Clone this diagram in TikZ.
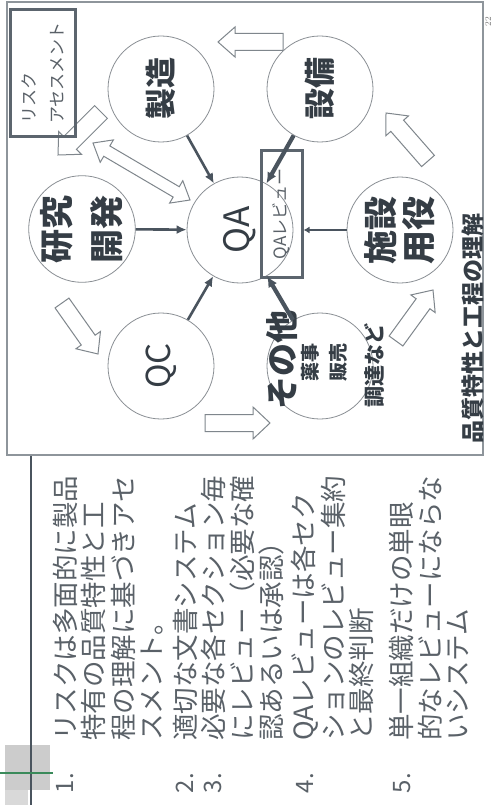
\documentclass[tikz,border=0pt]{standalone}
\usepackage{fontspec}
\newfontfamily\jp{Noto Sans CJK JP}
\usetikzlibrary{calc,arrows.meta}
\definecolor{frameC}{HTML}{8E959B}
\definecolor{lineC}{HTML}{4A545E}
\definecolor{txtC}{HTML}{353D45}
\definecolor{listC}{HTML}{5A6168}
\definecolor{circC}{HTML}{8A8F94}
\definecolor{barC}{HTML}{7F868C}
\definecolor{greenC}{HTML}{3A8A5A}
\newcommand\jfs[2]{\jp\fontsize{#1}{#2}\selectfont}
\newcommand\blockarr[5]{%
  \path ($(#2)!#5!(#1)$) coordinate (bac);
  \draw[barrow] ($(#1)!#3!90:(#2)$) -- ($(bac)!#3!90:(#2)$) -- ($(bac)!#4!90:(#2)$) -- (#2)
    -- ($(bac)!#4!-90:(#2)$) -- ($(bac)!#3!-90:(#2)$) -- ($(#1)!#3!-90:(#2)$) -- cycle;}
\newcommand\dblarr[5]{%
  \path ($(#2)!#5!(#1)$) coordinate (dbb);
  \path ($(#1)!#5!(#2)$) coordinate (dba);
  \draw[barrow] (#1) -- ($(dba)!#4!90:(#2)$) -- ($(dba)!#3!90:(#2)$) -- ($(dbb)!#3!90:(#2)$)
    -- ($(dbb)!#4!90:(#2)$) -- (#2) -- ($(dbb)!#4!-90:(#2)$) -- ($(dbb)!#3!-90:(#2)$)
    -- ($(dba)!#3!-90:(#2)$) -- ($(dba)!#4!-90:(#2)$) -- cycle;}
\tikzset{
  circ/.style={circle, draw=circC, line width=0.8pt, minimum size=106pt, inner sep=0pt, rotate=90, text=txtC, align=center},
  conn/.style={draw=lineC, line width=2.6pt, -{Latex[length=10pt,width=9pt]}},
  connthick/.style={draw=lineC, line width=4.2pt, -{Latex[length=11pt,width=10pt]}},
  barrow/.style={draw=barC, line width=1pt, fill=white, line join=miter},
  rtext/.style={rotate=90, inner sep=0pt, text=txtC},
  ltext/.style={rotate=90, inner sep=0pt, text=listC, anchor=west, font=\jfs{26.5}{27}},
  numtext/.style={rotate=90, inner sep=0pt, text=listC, font=\jfs{24}{24}},
  boxed/.style={draw=lineC!90, line width=3pt, rotate=90, inner sep=0pt, text=listC},
}
\begin{document}
\begin{tikzpicture}[x=1pt,y=-1pt]
\useasboundingbox (0,0) rectangle (492,805);
\fill[white] (0,0) rectangle (492,805);
% frame
\draw[frameC, line width=1.3pt] (7,2) rectangle (483,455);
\node[rtext, text=gray, font=\fontsize{9}{9}\selectfont] (pg) at (488,22) {22};
% block arrows
\coordinate (t1) at (283,42);  \coordinate (h1) at (218,42);
\coordinate (t2) at (428,161); \coordinate (h2) at (386,113);
\coordinate (t3) at (396,341); \coordinate (h3) at (433,290);
\coordinate (t4) at (205,423); \coordinate (h4) at (270,423);
\coordinate (t5) at (62,303);  \coordinate (h5) at (98,354);
\coordinate (t6) at (101,112); \coordinate (h6) at (58,155);
\coordinate (d1) at (93,143);  \coordinate (d2) at (190,200);
\blockarr{t1}{h1}{8.5pt}{15pt}{17pt}
\blockarr{t2}{h2}{8.5pt}{15pt}{17pt}
\blockarr{t3}{h3}{8.5pt}{15pt}{17pt}
\blockarr{t4}{h4}{8.5pt}{16pt}{17pt}
\blockarr{t5}{h5}{8.5pt}{15pt}{17pt}
\blockarr{t6}{h6}{9pt}{16pt}{17pt}
\dblarr{d1}{d2}{6pt}{13pt}{16pt}
% risk box
\node[boxed, minimum width=127pt, minimum height=65pt, align=left, font=\jfs{17}{28}] (risk) at (43,73) {リスク\\アセスメント};
% circles
\node[circ, font=\jfs{31}{31}\bfseries] (zs) at (161,89) {製造};
\node[circ, font=\jfs{31}{31}\bfseries] (sb) at (320,89) {設備};
\node[circ, font=\jfs{34}{50}\bfseries] (kk) at (82,229) {研究\\開発};
\node[circ, font=\jfs{35}{35}] (qa) at (240,230) {QA};
\node[circ, font=\jfs{34}{38}\bfseries] (sy) at (400,230) {施設\\用役};
\node[circ, font=\jfs{33}{33}] (qc) at (161,366) {QC};
\node[circ] (ot) at (320,366) {};
\node[rtext, font=\jfs{33}{33}\bfseries] (ot1) at (282,360) {その他};
\node[rtext, font=\jfs{19}{19}\bfseries] (ot2) at (310,362) {薬事};
\node[rtext, font=\jfs{19}{19}\bfseries] (ot3) at (338,362) {販売};
\node[rtext, font=\jfs{21}{21}\bfseries] (ot4) at (375,365) {調達など};
% QA review box
\node[boxed, minimum width=126pt, minimum height=41pt, font=\jfs{17}{17}] (qar) at (281.5,214) {QAレビュー};
% connectors
\draw[conn] (zs) -- (qa);
\draw[conn] (kk) -- (qa);
\draw[conn] (qc) -- (qa);
\draw[connthick] (sb) -- (qa);
\draw[connthick] (ot) -- (qa);
\draw[conn, -{Latex[length=6pt,width=7pt]}] (sy) -- (sy -| qar.south);
% title
\node[rtext, anchor=west, font=\jfs{23}{23}\bfseries] (ttl) at (473,444) {品質特性と工程の理解};
% left decoration
\fill[gray!40] (5,745) rectangle (50,790);
\fill[gray!30] (5,790) rectangle (28,805);
\draw[lineC, line width=1.8pt] (31,456) -- (31,805);
\draw[greenC, line width=1.8pt] (0,773) -- (53,773);
% list
\node[numtext] (n1) at (65,783) {1.};
\node[numtext] (n2) at (185,783) {2.};
\node[numtext] (n3) at (213,783) {3.};
\node[numtext] (n4) at (305,783) {4.};
\node[numtext] (n5) at (402,783) {5.};
\node[ltext] (l1a) at (65,741) {リスクは多面的に製品};
\node[ltext] (l1b) at (93,741) {特有の品質特性と工};
\node[ltext] (l1c) at (123,741) {程の理解に基づきアセ};
\node[ltext] (l1d) at (152,741) {スメント。};
\node[ltext] (l2a) at (185,741) {適切な文書システム};
\node[ltext] (l3a) at (213,741) {必要な各セクション毎};
\node[ltext] (l3b) at (242,741) {にレビュー（必要な確};
\node[ltext] (l3c) at (271,741) {認あるいは承認）};
\node[ltext] (l4a) at (305,741) {QAレビューは各セク};
\node[ltext] (l4b) at (333,741) {ションのレビュー集約};
\node[ltext] (l4c) at (362,741) {と最終判断};
\node[ltext] (l5a) at (402,741) {単一組織だけの単眼};
\node[ltext] (l5b) at (430,741) {的なレビューにならな};
\node[ltext] (l5c) at (458,741) {いシステム};
\end{tikzpicture}
\end{document}
